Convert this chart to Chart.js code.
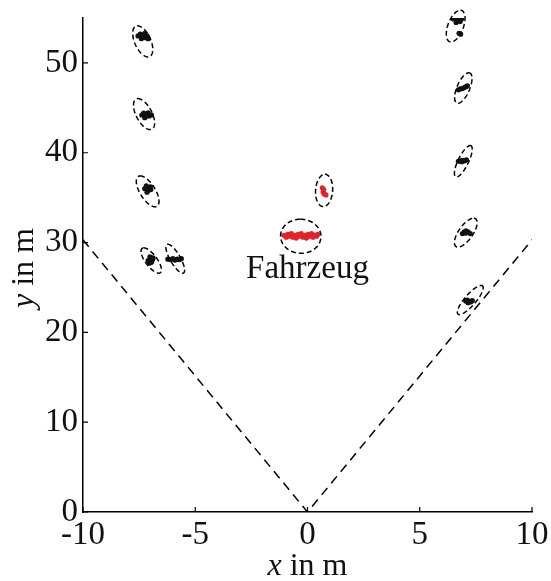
<!DOCTYPE html>
<html lang="de">
<head>
  <meta charset="UTF-8">
  <title>Radarobjekte</title>
  <style>
    body { margin: 0; background: #fff; }
    #wrap { width: 551px; height: 581px; }
  </style>
  <script src="https://cdn.jsdelivr.net/npm/chart.js"></script>
</head>
<body>
  <div id="wrap"><canvas id="chart" width="551" height="581"></canvas></div>
  <script>
    // Achsen
    const xRange = [-10, 10];
    const yRange = [0, 55];

    // Sichtbereich des Sensors (gestrichelt)
    const fovX = [-10, 0, 10];
    const fovY = [30.3, 0, 30.3];

    // Detektionen der Objekte (schwarz)
    const objX = [
      -7.55, -7.45, -7.38, -7.30, -7.22, -7.15, -7.40, -7.25, -7.10,
      -7.38, -7.30, -7.22, -7.15, -7.05, -6.95, -7.25, -7.10,
      -7.25, -7.18, -7.10, -7.05, -6.98, -7.15, -7.00,
      -7.10, -7.02, -6.95, -6.90, -7.05, -6.88,
      -6.22, -6.10, -6.00, -5.90, -5.80, -5.70, -5.62,
      6.50, 6.58, 6.65, 6.72, 6.80, 6.86, 6.62, 6.75, 6.82,
      6.72, 6.80, 6.90, 6.98, 7.06, 7.12,
      6.72, 6.82, 6.92, 7.00, 7.08, 6.88,
      6.90, 6.98, 7.06, 7.15, 7.25, 7.05,
      7.05, 7.12, 7.20, 7.28, 7.34, 7.15
    ];
    const objY = [
      53.0, 53.2, 52.9, 53.1, 52.8, 53.0, 52.7, 53.3, 52.7,
      44.2, 44.4, 44.0, 44.3, 44.1, 44.2, 43.9, 44.45,
      36.0, 36.3, 35.8, 36.1, 35.9, 35.6, 36.2,
      28.0, 28.4, 27.8, 28.1, 27.7, 28.3,
      28.15, 28.1, 28.2, 28.05, 28.15, 28.1, 28.2,
      54.9, 55.2, 54.7, 55.0, 54.6, 54.9, 54.5, 53.3, 53.2,
      47.0, 47.1, 47.15, 47.25, 47.35, 47.45,
      39.05, 39.1, 39.15, 39.1, 39.2, 39.0,
      31.0, 31.2, 31.3, 31.2, 31.0, 31.05,
      23.5, 23.6, 23.45, 23.4, 23.55, 23.3
    ];

    // Detektionen Fahrzeug (rot)
    const carX = [
      -1.05, -0.95, -0.88, -0.80, -0.72, -0.65, -0.58, -0.50, -0.42, -0.35, -0.28,
      -0.20, -0.12, -0.05, 0.02, 0.10, 0.18, 0.25, 0.32, 0.40, 0.45,
      0.66, 0.70, 0.75, 0.82, 0.72
    ];
    const carY = [
      30.8, 30.6, 30.9, 30.7, 31.0, 30.6, 30.8, 30.5, 30.9, 30.7, 31.0,
      30.6, 30.8, 30.5, 30.9, 30.7, 31.0, 30.6, 30.8, 30.7, 30.9,
      36.1, 35.6, 35.4, 35.3, 35.9
    ];

    // Unsicherheitsellipsen: Mittelpunkt, radiale und tangentiale Halbachse (m)
    const ellX   = [-7.34, -7.28, -7.12, -6.96, -5.89, 6.60, 6.94, 6.94, 7.05, 7.25, 0.74, -0.30];
    const ellY   = [52.4, 44.3, 35.7, 28.0, 28.2, 54.1, 47.2, 39.05, 31.1, 23.6, 35.8, 30.7];
    const ellRad = [1.75, 1.75, 1.75, 1.45, 1.65, 1.78, 1.72, 1.78, 1.65, 1.70, 1.80, 1.90];
    const ellTan = [0.38, 0.38, 0.38, 0.30, 0.25, 0.36, 0.30, 0.25, 0.36, 0.30, 0.38, 0.90];

    const FONT = "'Liberation Serif', 'Times New Roman', serif";
    const RED = '#e3232b';

    const toPts = (xs, ys) => xs.map((x, i) => ({ x: x, y: ys[i] }));

    const extras = {
      id: 'extras',
      afterDatasetsDraw(chart) {
        const ctx = chart.ctx;
        const xs = chart.scales.x, ys = chart.scales.y;
        const a = chart.chartArea;
        ctx.save();

        // Ticks nach innen
        ctx.strokeStyle = '#000';
        ctx.lineWidth = 1.2;
        ctx.beginPath();
        xs.ticks.forEach(t => {
          const p = xs.getPixelForValue(t.value);
          ctx.moveTo(p, a.bottom); ctx.lineTo(p, a.bottom - 5);
        });
        ys.ticks.forEach(t => {
          const p = ys.getPixelForValue(t.value);
          ctx.moveTo(a.left, p); ctx.lineTo(a.left + 5, p);
        });
        ctx.stroke();

        // Ellipsen
        ctx.setLineDash([5, 3]);
        ctx.lineWidth = 1.5;
        ellX.forEach((cx, i) => {
          const cy = ellY[i];
          const r = Math.hypot(cx, cy);
          const rx = cx / r, ry = cy / r;      // radial
          const tx = ry, ty = -rx;             // tangential
          ctx.beginPath();
          for (let k = 0; k <= 72; k++) {
            const t = k / 72 * Math.PI * 2;
            const dx = cx + ellRad[i] * Math.cos(t) * rx + ellTan[i] * Math.sin(t) * tx;
            const dy = cy + ellRad[i] * Math.cos(t) * ry + ellTan[i] * Math.sin(t) * ty;
            const px = xs.getPixelForValue(dx), py = ys.getPixelForValue(dy);
            if (k === 0) ctx.moveTo(px, py); else ctx.lineTo(px, py);
          }
          ctx.closePath();
          ctx.stroke();
        });
        ctx.setLineDash([]);

        // Beschriftung Fahrzeug
        ctx.fillStyle = '#111';
        ctx.font = '33px ' + FONT;
        ctx.textAlign = 'center';
        ctx.textBaseline = 'alphabetic';
        ctx.fillText('Fahrzeug', xs.getPixelForValue(0), ys.getPixelForValue(26.0));

        // Achsentitel
        ctx.textAlign = 'left';
        const it = 'italic 32px ' + FONT, rg = '32px ' + FONT;
        ctx.font = it; const w1 = ctx.measureText('x').width;
        ctx.font = rg; const w2 = ctx.measureText(' in m').width;
        let sx = (a.left + a.right) / 2 - (w1 + w2) / 2;
        ctx.font = it; ctx.fillText('x', sx, 575);
        ctx.font = rg; ctx.fillText(' in m', sx + w1, 575);

        ctx.font = it; const h1 = ctx.measureText('y').width;
        ctx.font = rg; const h2 = ctx.measureText(' in m').width;
        ctx.translate(33, (a.top + a.bottom) / 2 + 3);
        ctx.rotate(-Math.PI / 2);
        sx = -(h1 + h2) / 2;
        ctx.font = it; ctx.fillText('y', sx, 0);
        ctx.font = rg; ctx.fillText(' in m', sx + h1, 0);
        ctx.restore();
      }
    };

    new Chart(document.getElementById('chart'), {
      type: 'scatter',
      data: {
        datasets: [
          {
            label: 'Sichtbereich',
            data: toPts(fovX, fovY),
            showLine: true,
            borderColor: '#000',
            borderWidth: 1.5,
            borderDash: [9, 6],
            pointRadius: 0,
            fill: false
          },
          {
            label: 'Objekte',
            data: toPts(objX, objY),
            pointRadius: 2.6,
            borderWidth: 0,
            backgroundColor: '#111'
          },
          {
            label: 'Fahrzeug',
            data: toPts(carX, carY),
            pointRadius: 2.6,
            borderWidth: 0,
            backgroundColor: RED
          }
        ]
      },
      options: {
        responsive: false,
        animation: false,
        layout: { padding: { top: 18, right: 19, left: 0, bottom: 0 } },
        plugins: { legend: { display: false }, tooltip: { enabled: false } },
        scales: {
          x: {
            type: 'linear',
            min: xRange[0], max: xRange[1],
            ticks: { stepSize: 5, maxRotation: 0, padding: 7, color: '#111',
                     font: { family: FONT, size: 33, lineHeight: 1 } },
            grid: { display: false, drawTicks: false, tickLength: 0 },
            border: { display: true, color: '#000', width: 1.5 },
            afterFit: s => { s.height = 69; s.paddingLeft = 0; s.paddingRight = 0; }
          },
          y: {
            type: 'linear',
            min: yRange[0], max: yRange[1],
            ticks: { stepSize: 10, padding: 5, color: '#111',
                     font: { family: FONT, size: 33, lineHeight: 1 } },
            grid: { display: false, drawTicks: false, tickLength: 0 },
            border: { display: true, color: '#000', width: 1.5 },
            afterBuildTicks: s => { s.ticks = s.ticks.filter(t => t.value % 10 === 0); },
            afterFit: s => { s.width = 83; s.paddingTop = 0; s.paddingBottom = 0; }
          }
        }
      },
      plugins: [extras]
    });
  </script>
</body>
</html>
